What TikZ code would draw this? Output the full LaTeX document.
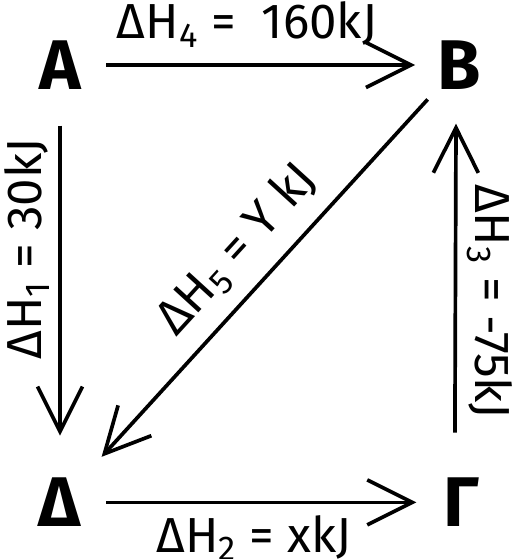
\documentclass[tikz,border=0pt]{standalone}
\usepackage{fontspec}
\setmainfont{Fira Sans}
\usetikzlibrary{
  arrows.meta,
  positioning
}
\tikzset{
  vertex/.style={
    inner sep=0pt,
    minimum width=0.8cm,
    minimum height=0.96cm,
    font=\fontsize{40}{40}\selectfont\bfseries
  },
  enthalpy/.style={
    inner sep=0pt,
    font=\fontsize{28}{28}\selectfont
  },
  reaction/.style={
    -{Straight Barb[length=0.9cm, width=0.9cm]},
    line width=2.1pt
  }
}

\begin{document}
\begin{tikzpicture}

  \useasboundingbox (0,0) rectangle (10.24,11.18);

  \node[vertex] (A) at (1.2,9.88) {Α};
  \node[
    vertex,
    right=7.12cm of A
  ] (B) {Β};
  \node[
    vertex,
    below=7.76cm of A
  ] (D) {Δ};
  \node[
    vertex,
    right=7.2cm of D
  ] (G) {Γ};

  \draw[
    reaction,
    shorten <=0.5cm,
    shorten >=0.44cm
  ]
  (A.east) --
  node[
    enthalpy,
    pos=0.466,
    above=0.32cm
  ] {
    ΔH\textsubscript{4} =\ \ 160kJ
  }
  (B.west);

  \draw[
    reaction,
    shorten <=0.72cm,
    shorten >=0.84cm
  ]
  (A.south) --
  node[
    enthalpy,
    pos=0.41,
    xshift=-0.18cm,
    rotate=90,
    anchor=south
  ] {
    ΔH\textsubscript{1} = 30kJ
  }
  (D.north);

  \draw[
    reaction,
    shorten <=0.9cm,
    shorten >=0.68cm
  ]
  ([xshift=-0.14cm]G.north) --
  node[
    enthalpy,
    pos=0.455,
    xshift=0.2cm,
    rotate=-90,
    anchor=south
  ] {
    ΔH\textsubscript{3} = -75kJ
  }
  ([xshift=-0.06cm]B.south);

  \draw[
    reaction,
    shorten <=0.5cm,
    shorten >=0.5cm
  ]
  (D.east) --
  node[
    enthalpy,
    pos=0.48,
    below=0.22cm
  ] {
    ΔH\textsubscript{2} =\ xkJ
  }
  (G.west);

  \draw[
    reaction,
    shorten <=0.28cm,
    shorten >=0.6cm
  ]
  (B) --
  node[
    enthalpy,
    pos=0.48,
    sloped,
    above=0.3cm
  ] {
    ΔH\textsubscript{5} = Y kJ
  }
  (D);

\end{tikzpicture}
\end{document}
